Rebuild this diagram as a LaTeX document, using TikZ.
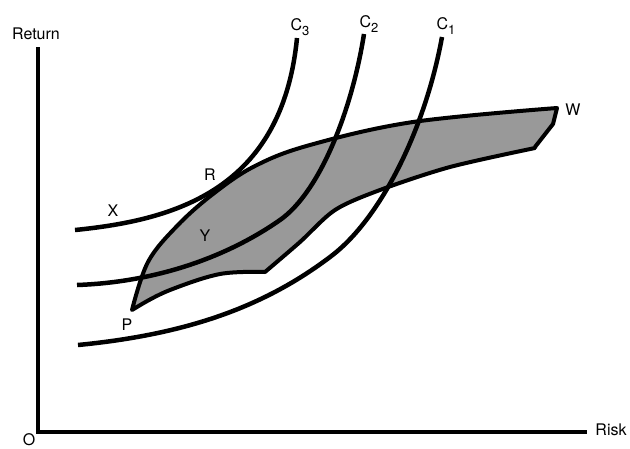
\documentclass[tikz,border=0pt]{standalone}
\usepackage{fontspec}
\setmainfont{TeX Gyre Heros}
\usetikzlibrary{positioning}
\definecolor{setgray}{gray}{0.6}
\newcommand{\lowidx}[1]{\raisebox{-0.55ex}{\fontsize{13}{13}\selectfont #1}}

\begin{document}
\begin{tikzpicture}[
x=1pt, y=-1pt,
axis/.style={line width=4pt, line join=miter},
curve/.style={line width=4.5pt, line cap=butt},
region/.style={fill=setgray, draw, line width=4pt, line join=round},
lbl/.style={font=\fontsize{16}{18}\selectfont, inner sep=0pt}
]
\useasboundingbox (0,0) rectangle (630,448);

% axes
\coordinate (ytop) at (38,47);
\coordinate (xend) at (587,432);
\draw[axis] (ytop) |- (xend);
\node[lbl] (return) at (36,34) {Return};
\node[lbl] (risk) at (611,430) {Risk};
\node[lbl] (origin) at (29,440) {O};

% efficient set region
\draw[region] plot[smooth, tension=0.6] coordinates {(132,310) (148,262) (177,226)
  (213,194) (255,166) (310,145) (413,122) (557,108)}
  -- (553,124) -- (535,147)
  -- plot[smooth, tension=0.5] coordinates {(535,148) (450,167) (380,190) (335,210)
  (300,242) (265,272)}
  -- plot[smooth, tension=0.6] coordinates {(265,272) (220,274) (170,290) (142,304)}
  -- cycle;

% indifference curves
\coordinate (c3s) at (75,230);
\coordinate (c3e) at (297,38);
\coordinate (c2s) at (77,285);
\coordinate (c2m) at (280,220);
\coordinate (c2e) at (364,34);
\coordinate (c1s) at (78,345);
\coordinate (c1m) at (330,257);
\coordinate (c1e) at (442,37);
\draw[curve] (c3s) .. controls (175,220) and (282,190) .. (c3e);
\draw[curve] (c2s) .. controls (160,282) and (230,255) .. (c2m)
  .. controls (320,192) and (352,110) .. (c2e);
\draw[curve] (c1s) .. controls (180,335) and (260,310) .. (c1m)
  .. controls (380,220) and (425,130) .. (c1e);

\node[lbl] (c3) at (300,27) {C\lowidx{3}};
\node[lbl] (c2) at (369,24) {C\lowidx{2}};
\node[lbl] (c1) at (446,26) {C\lowidx{1}};

% points
\node[lbl] (w) at (573,110) {W};
\node[lbl] (x) at (113,211) {X};
\node[lbl] (r) at (210,175) {R};
\node[lbl] (y) at (205,236) {Y};
\node[lbl] (p) at (127,325) {P};
\end{tikzpicture}
\end{document}
